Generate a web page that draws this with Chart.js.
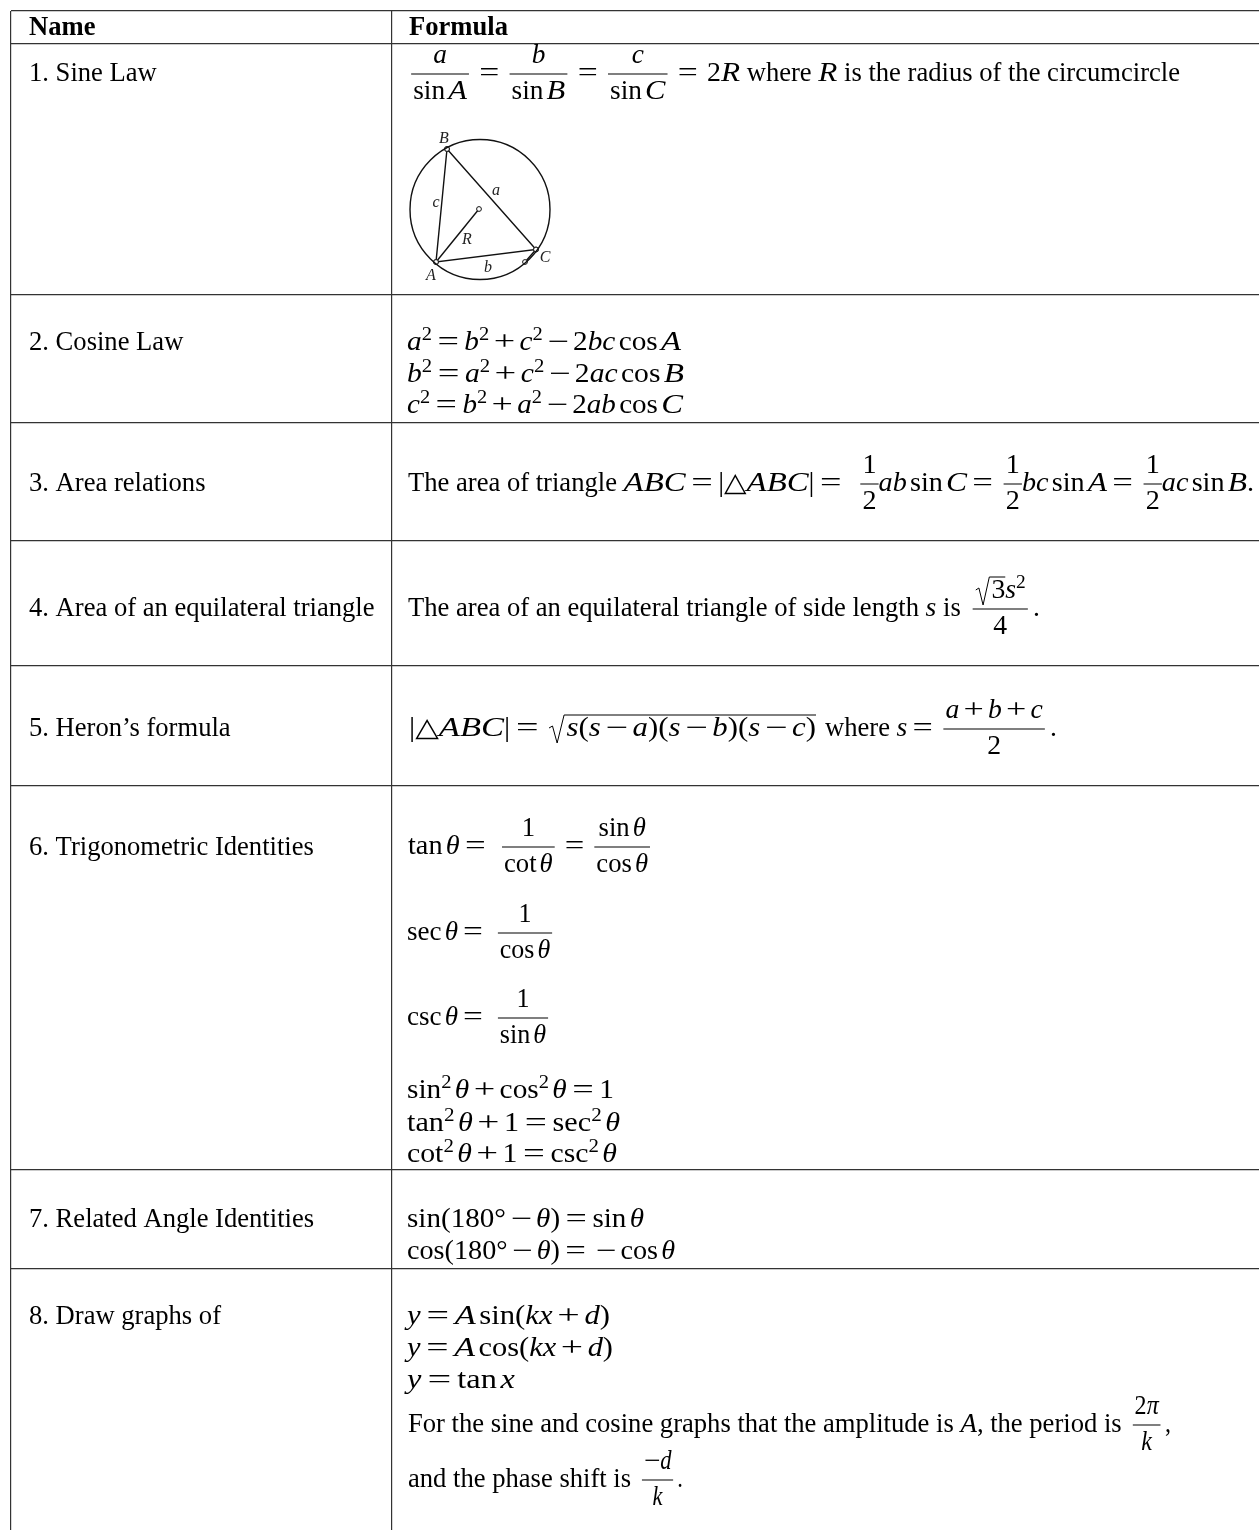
<!DOCTYPE html>
<html>
<head>
<meta charset="utf-8">
<title>Trigonometry formulas</title>
<style>
  html, body { margin: 0; padding: 0; background: #fff; }
  canvas { display: block; }
</style>
<script src="https://cdn.jsdelivr.net/npm/chart.js@4"></script>
</head>
<body>
<canvas id="formulaChart" width="1259" height="1530"></canvas>
<script>
// table rules
const columnEdges = [11, 392];
const rowEdges = [11, 43.5, 294.5, 423, 541, 666, 786, 1170, 1269];

const headers = ["Name", "Formula"];
const rowNames = [
  "1. Sine Law",
  "2. Cosine Law",
  "3. Area relations",
  "4. Area of an equilateral triangle",
  "5. Heron\u2019s formula",
  "6. Trigonometric Identities",
  "7. Related Angle Identities",
  "8. Draw graphs of"
];
const rowNameBaselines = [81, 350, 491, 616, 736, 855, 1227, 1324];

// circumcircle diagram
const circleCentre = [{ x: 480, y: 209.5 }];
const triangle = [{ x: 447, y: 149 }, { x: 436, y: 262 }, { x: 536, y: 249.5 }, { x: 447, y: 149 }];
const radiusLine = [{ x: 436, y: 262 }, { x: 479, y: 209 }];
const arcTick = [{ x: 536, y: 249.5 }, { x: 525, y: 262 }];
const diagramLabels = ["B", "a", "c", "R", "A", "b", "C"];
const diagramLabelX = [444, 496, 436, 467, 431, 488, 545];
const diagramLabelY = [143, 195, 207, 244, 280, 272, 262];

const FONT = '"Liberation Serif", "DejaVu Serif", serif';
const SIZE = 26.6;
const FUNCS = "sin|cos|tan|cot|sec|csc";
const OP_STRETCH = 1.3;
const CAP_STRETCH = 1.12;

// small token helpers for the formula lines
const t = (s) => ({ kind: "text", s, style: "", sx: 1 });
const prose = (s) => ({ kind: "text", s, style: "", sx: 1, prose: true });
const it = (s) => ({ kind: "text", s, style: "italic ", sx: /^[A-Z]+$/.test(s) ? CAP_STRETCH : 1 });
const op = (s) => ({ kind: "op", s });
const up = (s) => ({ kind: "sup", s });
const gap = (w) => ({ kind: "gap", w });
const frac = (a, b, right = 5) => ({ kind: "frac", a, b, right });
const root = (a) => ({ kind: "root", a });

// math string -> tokens: function names upright, letters italic
function m(str) {
  const out = [];
  const re = new RegExp("(" + FUNCS + ")|\\^(.)|([A-Za-z\u03b8\u03c0]+)|([0-9.\u00b0(),|\u25b3]+)|([=+\u2212])|( )", "g");
  let after = false, match;
  while ((match = re.exec(str))) {
    if (match[1]) {
      if (out.length && out[out.length - 1].style === "italic ") out.push(gap(3));
      out.push(t(match[1]));
      after = true;
    } else if (match[2]) {
      out.push(up(match[2]));
    } else if (match[3]) {
      if (after) out.push(gap(3));
      after = false;
      out.push(it(match[3]));
    } else if (match[4]) {
      after = false;
      out.push(t(match[4]));
    } else if (match[5]) {
      after = false;
      const w = match[5] === "=" ? 5 : 4;
      out.push(gap(w), op(match[5]), gap(w));
    }
  }
  return out;
}

const half = () => frac(m("1"), m("2"), 0);

// x0/x1 are where a run starts and ends in the page, y its baseline
const lines = [
  { x0: 406, x1: 703, y: 81, tk: [frac(m("a"), m("sin A")), ...m("="), frac(m("b"), m("sin B")), ...m("="), frac(m("c"), m("sin C")), ...m("=")] },
  { x0: 707, x1: 1180, y: 81, tk: [...m("2R"), prose(" where "), it("R"), prose(" is the radius of the circumcircle")] },

  { x0: 407, x1: 681, y: 350, tk: m("a^2 = b^2 + c^2 \u2212 2bc cos A") },
  { x0: 407, x1: 684, y: 382, tk: m("b^2 = a^2 + c^2 \u2212 2ac cos B") },
  { x0: 407, x1: 683, y: 413, tk: m("c^2 = b^2 + a^2 \u2212 2ab cos C") },

  { x0: 408, x1: 847, y: 491, tk: [prose("The area of triangle "), ...m("ABC = |\u25b3ABC| =")] },
  { x0: 855, x1: 1254, y: 491, tk: [half(), ...m("ab sin C ="), half(), ...m("bc sin A ="), half(), ...m("ac sin B.")] },

  { x0: 408, x1: 1040, y: 616, tk: [prose("The area of an equilateral triangle of side length "), it("s"), prose(" is "), frac([root(m("3")), ...m("s^2")], m("4")), t(".")] },

  { x0: 409, x1: 816, y: 736, tk: [...m("|\u25b3ABC| ="), gap(3), root(m("s(s \u2212 a)(s \u2212 b)(s \u2212 c)"))] },
  { x0: 825, x1: 1057, y: 736, tk: [prose("where "), ...m("s ="), frac(m("a + b + c"), m("2")), t(".")] },

  { x0: 408, x1: 491, y: 854, tk: m("tan \u03b8 =") },
  { x0: 497, x1: 655, y: 854, tk: [frac(m("1"), m("cot \u03b8")), ...m("="), frac(m("sin \u03b8"), m("cos \u03b8"))] },
  { x0: 407, x1: 488, y: 940, tk: m("sec \u03b8 =") },
  { x0: 493, x1: 557, y: 940, tk: [frac(m("1"), m("cos \u03b8"))] },
  { x0: 407, x1: 488, y: 1025, tk: m("csc \u03b8 =") },
  { x0: 493, x1: 553, y: 1025, tk: [frac(m("1"), m("sin \u03b8"))] },
  { x0: 407, x1: 614, y: 1098, tk: m("sin^2 \u03b8 + cos^2 \u03b8 = 1") },
  { x0: 407, x1: 620, y: 1131, tk: m("tan^2 \u03b8 + 1 = sec^2 \u03b8") },
  { x0: 407, x1: 617, y: 1162, tk: m("cot^2 \u03b8 + 1 = csc^2 \u03b8") },

  { x0: 407, x1: 644, y: 1227, tk: m("sin(180\u00b0 \u2212 \u03b8) = sin \u03b8") },
  { x0: 407, x1: 675, y: 1259, tk: m("cos(180\u00b0 \u2212 \u03b8) = \u2212 cos \u03b8") },

  { x0: 407, x1: 610, y: 1324, tk: m("y = A sin(kx + d)") },
  { x0: 407, x1: 613, y: 1356, tk: m("y = A cos(kx + d)") },
  { x0: 407, x1: 515, y: 1388, tk: m("y = tan x") },
  { x0: 408, x1: 1171, y: 1432, tk: [prose("For the sine and cosine graphs that the amplitude is "), it("A"), prose(", the period is "), frac(m("2\u03c0"), m("k")), t(",")] },
  { x0: 408, x1: 683, y: 1487, tk: [prose("and the phase shift is "), frac([op("\u2212"), it("d")], m("k")), t(".")] }
];

function setFont(ctx, style, size) {
  ctx.font = style + size + "px " + FONT;
}

// width of a token list; prose keeps its natural width, math is multiplied by k
function widthOf(ctx, tokens, k) {
  let w = 0;
  tokens.forEach((tk) => {
    if (tk.kind === "gap") w += tk.w * k;
    else if (tk.kind === "text") { setFont(ctx, tk.style, SIZE); w += ctx.measureText(tk.s).width * tk.sx * (tk.prose ? 1 : k); }
    else if (tk.kind === "op") { setFont(ctx, "", SIZE); w += ctx.measureText(tk.s).width * OP_STRETCH * k; }
    else if (tk.kind === "sup") { setFont(ctx, "", SIZE * 0.7); w += ctx.measureText(tk.s).width * k; }
    else if (tk.kind === "frac") w += Math.max(widthOf(ctx, tk.a, k), widthOf(ctx, tk.b, k)) + (9 + tk.right) * k;
    else if (tk.kind === "root") w += widthOf(ctx, tk.a, k) + 16 * k;
  });
  return w;
}

function put(ctx, s, x, y, sx) {
  ctx.save();
  ctx.translate(x, y);
  ctx.scale(sx, 1);
  ctx.fillText(s, 0, 0);
  ctx.restore();
}

function drawTokens(ctx, tokens, x, y, k) {
  tokens.forEach((tk) => {
    if (tk.kind === "gap") {
      x += tk.w * k;
    } else if (tk.kind === "text") {
      const sx = tk.sx * (tk.prose ? 1 : k);
      setFont(ctx, tk.style, SIZE);
      put(ctx, tk.s, x, y, sx);
      x += ctx.measureText(tk.s).width * sx;
    } else if (tk.kind === "op") {
      setFont(ctx, "", SIZE);
      put(ctx, tk.s, x, y, OP_STRETCH * k);
      x += ctx.measureText(tk.s).width * OP_STRETCH * k;
    } else if (tk.kind === "sup") {
      setFont(ctx, "", SIZE * 0.7);
      put(ctx, tk.s, x, y - 10, k);
      x += ctx.measureText(tk.s).width * k;
    } else if (tk.kind === "frac") {
      const wa = widthOf(ctx, tk.a, k), wb = widthOf(ctx, tk.b, k);
      const w = Math.max(wa, wb) + 4 * k;
      const bx = x + 5 * k;
      drawTokens(ctx, tk.a, bx + (w - wa) / 2, y - 18, k);
      drawTokens(ctx, tk.b, bx + (w - wb) / 2, y + 18, k);
      ctx.fillRect(bx, y - 7.5, w, 1);
      x += w + (5 + tk.right) * k;
    } else if (tk.kind === "root") {
      const w = widthOf(ctx, tk.a, k);
      const top = y - 21;
      ctx.beginPath();
      ctx.lineWidth = 1;
      ctx.moveTo(x + 1 * k, y - 8);
      ctx.lineTo(x + 4 * k, y - 10);
      ctx.lineTo(x + 8 * k, y + 7);
      ctx.lineTo(x + 14 * k, top);
      ctx.lineTo(x + 16 * k + w, top);
      ctx.stroke();
      drawTokens(ctx, tk.a, x + 16 * k, y, k);
      x += w + 16 * k;
    }
  });
}

const tableText = {
  id: "tableText",
  afterDraw(chart) {
    const ctx = chart.ctx;
    ctx.save();
    ctx.fillStyle = "#000";
    ctx.strokeStyle = "#000";
    ctx.textBaseline = "alphabetic";
    ctx.textAlign = "left";

    setFont(ctx, "bold ", SIZE);
    ctx.fillText(headers[0], 29, 35);
    ctx.fillText(headers[1], 409, 35);

    setFont(ctx, "", SIZE);
    rowNames.forEach((name, i) => ctx.fillText(name, 29, rowNameBaselines[i]));

    lines.forEach((line) => {
      // stretch only the math so that the run ends where it does in the picture
      const natural = widthOf(ctx, line.tk, 1);
      const fixed = widthOf(ctx, line.tk, 0);
      const k = (line.x1 - line.x0 - fixed) / (natural - fixed);
      drawTokens(ctx, line.tk, line.x0, line.y, k);
    });

    ctx.fillStyle = "#222";
    ctx.font = "italic 16px " + FONT;
    ctx.textAlign = "center";
    diagramLabels.forEach((label, i) => ctx.fillText(label, diagramLabelX[i], diagramLabelY[i]));
    ctx.restore();
  }
};

const ruleStyle = { color: "#333", lineWidth: 1.2, drawTicks: false };
const markerStyle = { pointRadius: 2.4, pointBackgroundColor: "#fff", pointBorderColor: "#111", pointBorderWidth: 1 };

new Chart(document.getElementById("formulaChart").getContext("2d"), {
  type: "scatter",
  data: {
    datasets: [
      { data: circleCentre, pointRadius: 70, pointBackgroundColor: "transparent", pointBorderColor: "#111", pointBorderWidth: 1.4 },
      { data: triangle, showLine: true, borderColor: "#111", borderWidth: 1.4, ...markerStyle },
      { data: radiusLine, showLine: true, borderColor: "#111", borderWidth: 1.4, ...markerStyle },
      { data: arcTick, showLine: true, borderColor: "#111", borderWidth: 1.4, ...markerStyle }
    ]
  },
  options: {
    responsive: false,
    animation: false,
    layout: { autoPadding: false, padding: { left: 11, top: 11, right: 0, bottom: 0 } },
    plugins: { legend: { display: false }, tooltip: { enabled: false } },
    scales: {
      x: {
        type: "linear", min: 11, max: 1259,
        afterBuildTicks: (scale) => { scale.ticks = columnEdges.map((value) => ({ value })); },
        ticks: { display: false },
        border: { display: false },
        grid: ruleStyle
      },
      y: {
        type: "linear", reverse: true, min: 11, max: 1530,
        afterBuildTicks: (scale) => { scale.ticks = rowEdges.map((value) => ({ value })); },
        ticks: { display: false },
        border: { display: false },
        grid: ruleStyle
      }
    }
  },
  plugins: [tableText]
});
</script>
</body>
</html>
